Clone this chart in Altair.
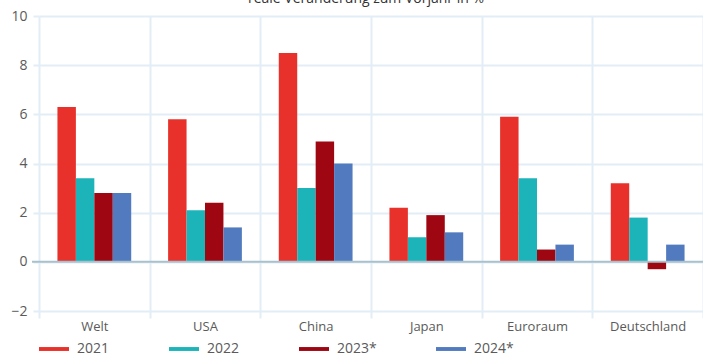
import altair as alt
import pandas as pd

categories = ["Welt", "USA", "China", "Japan", "Euroraum", "Deutschland"]
series = ["2021", "2022", "2023*", "2024*"]
v2021 = [6.3, 5.8, 8.5, 2.2, 5.9, 3.2]
v2022 = [3.4, 2.1, 3.0, 1.0, 3.4, 1.8]
v2023 = [2.8, 2.4, 4.9, 1.9, 0.5, -0.3]
v2024 = [2.8, 1.4, 4.0, 1.2, 0.7, 0.7]
colors = ["#e8312a", "#1db4b9", "#9e0712", "#527bbf"]
y_ticks = [-2, 0, 2, 4, 6, 8, 10]
title_text = "reale Veränderung zum Vorjahr in %"

rows = []
for s, vals in zip(series, [v2021, v2022, v2023, v2024]):
    for c, v in zip(categories, vals):
        rows.append({"Region": c, "Jahr": s, "Wert": v})
df = pd.DataFrame(rows)

FONT = "Open Sans"
GRID = "#e3edf7"
TXT = "#5a5a5a"
W, H = 664, 295

yscale = alt.Scale(domain=[-2, 10], nice=False, zero=False)

bars = alt.Chart(df).mark_bar().encode(
    x=alt.X("Region:N", sort=categories,
            scale=alt.Scale(paddingInner=0, paddingOuter=0),
            axis=alt.Axis(title=None, labelAngle=0, tickBand="extent", grid=True,
                          gridColor=GRID, gridWidth=2, tickColor=GRID, tickWidth=2,
                          tickSize=7, domain=False, labelPadding=2, labelFontSize=13,
                          labelColor=TXT, labelFont=FONT)),
    xOffset=alt.XOffset("Jahr:N", sort=series,
                        scale=alt.Scale(paddingOuter=1, paddingInner=0)),
    y=alt.Y("Wert:Q", scale=yscale,
            axis=alt.Axis(title=None, values=y_ticks, grid=True, gridColor=GRID,
                          gridWidth=2, tickColor=GRID, tickWidth=2, tickSize=6,
                          domain=False, labelPadding=6, labelFontSize=14,
                          labelColor=TXT, labelFont=FONT,
                          labelExpr="replace(datum.label, '-', '\u2212')")),
    color=alt.Color("Jahr:N", sort=series,
                    scale=alt.Scale(domain=series, range=colors),
                    legend=alt.Legend(title=None, orient="none", legendX=0, legendY=318,
                                      direction="horizontal",
                                      symbolType="M-1,-0.13H1V0.13H-1Z",
                                      symbolSize=900, symbolStrokeWidth=0,
                                      labelFontSize=14, labelFont=FONT, labelColor=TXT,
                                      labelOffset=8, columnPadding=59, gridAlign="each")),
)

zero = alt.Chart(pd.DataFrame({"y": [0]})).mark_rule(color="#a9c0cd", strokeWidth=2).encode(
    y=alt.Y("y:Q", scale=yscale), x=alt.value(-7), x2=alt.value(W)
)

chart = alt.layer(bars, zero).properties(
    width=W, height=H,
    title=alt.TitleParams(title_text, fontSize=14, font=FONT, color="#333333",
                          fontWeight="normal", anchor="middle", offset=3, dx=-5),
    autosize=alt.AutoSizeParams(type="none"),
    padding={"left": 39, "top": 16, "right": 0, "bottom": 45},
).configure_view(stroke=None)

chart.save("out.html", embed_options={"renderer": "svg", "actions": False})
